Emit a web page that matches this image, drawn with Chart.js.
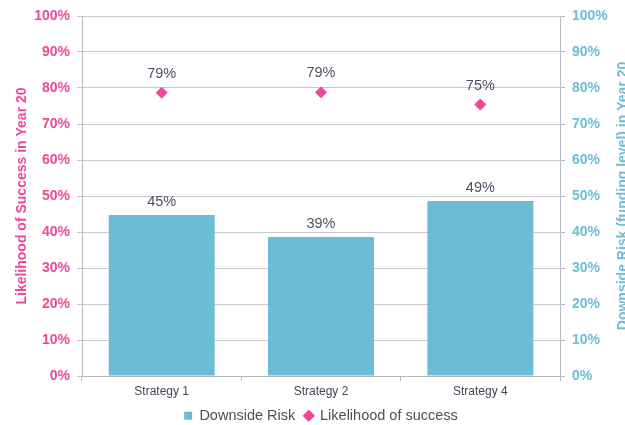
<!DOCTYPE html>
<html>
<head>
<meta charset="utf-8">
<script src="https://cdn.jsdelivr.net/npm/chart.js@4"></script>
<style>
  html, body { margin: 0; padding: 0; background: #fff; }
  #wrap { width: 625px; height: 425px; }
</style>
</head>
<body>
<div id="wrap"><canvas id="strategyChart" width="625" height="425"></canvas></div>
<script>
const strategies = ["Strategy 1", "Strategy 2", "Strategy 4"];
const downsideRisk = [44.7, 38.6, 48.6];
const likelihood = [78.7, 78.8, 75.4];
const pctTicks = [0, 10, 20, 30, 40, 50, 60, 70, 80, 90, 100];

const PINK = "#f0479a";
const BLUE = "#6cbdd8";
const BAR = "#6bbcd6";
const FONT = "'Liberation Sans', Arial, sans-serif";

// value labels above bars and diamonds
const valueLabels = {
    id: "valueLabels",
    afterDatasetsDraw(chart) {
        const ctx = chart.ctx;
        ctx.save();
        ctx.font = "14.5px " + FONT;
        ctx.fillStyle = "#4b5263";
        ctx.textAlign = "center";
        ctx.textBaseline = "middle";
        chart.data.datasets.forEach((ds, i) => {
            chart.getDatasetMeta(i).data.forEach((el, j) => {
                const txt = Math.round(ds.data[j]) + "%";
                ctx.fillText(txt, el.x, el.y - (ds.type === "bar" ? 13 : 19));
            });
        });
        ctx.restore();
    },
};

// right axis title reads bottom-to-top like the left one
const rightTitle = {
    id: "rightTitle",
    afterDraw(chart) {
        const a = chart.chartArea;
        const ctx = chart.ctx;
        ctx.save();
        ctx.translate(a.right + 63, (a.top + a.bottom) / 2);
        ctx.rotate(-Math.PI / 2);
        ctx.font = "bold 14px " + FONT;
        ctx.fillStyle = BLUE;
        ctx.textAlign = "center";
        ctx.textBaseline = "middle";
        ctx.fillText("Downside Risk (funding level) in Year 20", 0, 0);
        ctx.restore();
    },
};

new Chart(document.getElementById("strategyChart"), {
    data: {
        labels: strategies,
        datasets: [
            {
                type: "bar",
                label: "Downside Risk",
                data: downsideRisk,
                yAxisID: "y2",
                backgroundColor: BAR,
                categoryPercentage: 1,
                barPercentage: 0.665,
                pointStyle: "rect",
            },
            {
                type: "line",
                label: "Likelihood of success",
                data: likelihood,
                yAxisID: "y",
                showLine: false,
                pointStyle: "rectRot",
                pointRadius: 5.5,
                pointBackgroundColor: PINK,
                pointBorderColor: PINK,
                backgroundColor: PINK,
                borderColor: PINK,
            },
        ],
    },
    options: {
        responsive: false,
        animation: false,
        layout: { padding: { top: 16, bottom: -8 } },
        plugins: {
            tooltip: { enabled: false },
            legend: {
                position: "bottom",
                fullSize: false,
                labels: {
                    usePointStyle: true,
                    boxWidth: 8,
                    boxHeight: 8,
                    padding: 9.5,
                    color: "#4a5060",
                    font: { family: FONT, size: 14.5 },
                },
            },
        },
        scales: {
            x: {
                offset: true,
                afterFit: (s) => { s.height = 23; },
                grid: {
                    offset: true,
                    drawOnChartArea: false,
                    tickLength: 5,
                    color: "#b5b9bf",
                },
                border: { color: "#b5b9bf" },
                ticks: {
                    color: "#404654",
                    font: { family: FONT, size: 12 },
                    padding: 3,
                },
            },
            y: {
                position: "left",
                min: 0,
                max: 100,
                afterFit: (s) => { s.width = 82; },
                afterBuildTicks: (s) => { s.ticks = pctTicks.map((v) => ({ value: v })); },
                grid: { color: "#c5c9ce", tickLength: 5 },
                border: { color: "#b5b9bf" },
                ticks: {
                    color: PINK,
                    padding: 7,
                    font: { family: FONT, size: 14, weight: "bold" },
                    callback: (v) => v + "%",
                },
                title: {
                    display: true,
                    text: "Likelihood of Success in Year 20",
                    color: PINK,
                    font: { family: FONT, size: 14, weight: "bold" },
                    padding: { top: 14, bottom: 0 },
                },
            },
            y2: {
                position: "right",
                min: 0,
                max: 100,
                afterFit: (s) => { s.width = 65; },
                afterBuildTicks: (s) => { s.ticks = pctTicks.map((v) => ({ value: v })); },
                grid: { drawOnChartArea: false, tickLength: 5, color: "#b5b9bf" },
                border: { color: "#b5b9bf" },
                ticks: {
                    color: BLUE,
                    padding: 7,
                    font: { family: FONT, size: 14, weight: "bold" },
                    callback: (v) => v + "%",
                },
            },
        },
    },
    plugins: [valueLabels, rightTitle],
});
</script>
</body>
</html>
